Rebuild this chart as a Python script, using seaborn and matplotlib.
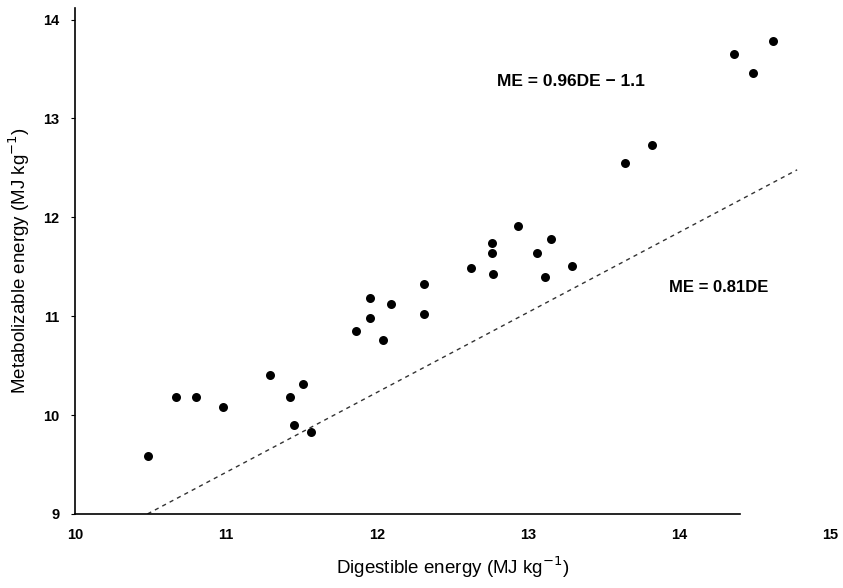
import matplotlib
matplotlib.use("Agg")
import matplotlib.pyplot as plt
import seaborn as sns
import pandas as pd

# digestible energy (x) and metabolizable energy (y), MJ/kg
de = [10.48, 10.67, 10.80, 10.98, 11.29, 11.42, 11.51, 11.45, 11.56,
      11.86, 11.95, 11.95, 12.04, 12.09, 12.31, 12.31, 12.62, 12.76,
      12.76, 12.77, 12.93, 13.06, 13.11, 13.15, 13.29, 13.64, 13.82,
      14.36, 14.49, 14.62]
me = [9.59, 10.18, 10.18, 10.08, 10.40, 10.18, 10.31, 9.90, 9.83,
      10.85, 11.18, 10.98, 10.76, 11.12, 11.33, 11.02, 11.49, 11.74,
      11.64, 11.43, 11.91, 11.64, 11.40, 11.78, 11.51, 12.55, 12.73,
      13.65, 13.46, 13.78]

# dashed reference line (ME = 0.81DE) as drawn
ref_x = [10.48, 14.78]
ref_y = [9.0, 12.48]

x_ticks = [10, 11, 12, 13, 14, 15]
y_ticks = [9, 10, 11, 12, 13, 14]

df = pd.DataFrame({"DE": de, "ME": me})
ref = pd.DataFrame({"DE": ref_x, "ME": ref_y})

sns.set_style("white")
plt.rcParams["font.family"] = ["Liberation Sans", "DejaVu Sans"]
plt.rcParams["text.color"] = "black"
plt.rcParams["axes.labelcolor"] = "black"
plt.rcParams["xtick.color"] = "black"
plt.rcParams["ytick.color"] = "black"

fig = plt.figure(figsize=(8.43, 5.88), dpi=100)
ax = fig.add_axes([0.089, 0.126, 0.896, 0.861])

sns.lineplot(data=ref, x="DE", y="ME", ax=ax, color="#333333",
             linewidth=1.0, linestyle=(0, (3, 3)))
sns.scatterplot(data=df, x="DE", y="ME", ax=ax, color="black",
                s=42, edgecolor="black", linewidth=0)

ax.set_xlim(10, 15)
ax.set_ylim(9, 14.12)
ax.set_xticks(x_ticks)
ax.set_yticks(y_ticks)
ax.set_xticklabels([str(t) for t in x_ticks], fontweight="bold", fontsize=10.5)
ax.set_yticklabels([str(t) for t in y_ticks], fontweight="bold", fontsize=10.5)
ax.tick_params(axis="x", length=0, pad=10)
ax.tick_params(axis="y", length=3, pad=8, left=True, direction="out")

for side in ["top", "right"]:
    ax.spines[side].set_visible(False)
ax.spines["left"].set_color("black")
ax.spines["left"].set_linewidth(1.2)
ax.spines["bottom"].set_color("black")
ax.spines["bottom"].set_linewidth(1.2)
ax.spines["bottom"].set_bounds(10, 14.4)

ax.set_xlabel("Digestible energy (MJ kg$^{-1}$)", fontsize=13.5, labelpad=9)
ax.set_ylabel("Metabolizable energy (MJ kg$^{-1}$)", fontsize=13.5, labelpad=8)

ax.text(12.79, 13.37, "ME = 0.96DE \u2212 1.1", fontsize=12.5, fontweight="bold",
        va="center", ha="left")
ax.text(13.93, 11.29, "ME = 0.81DE", fontsize=12, fontweight="bold",
        va="center", ha="left")

fig.savefig("out.png", dpi=100)
